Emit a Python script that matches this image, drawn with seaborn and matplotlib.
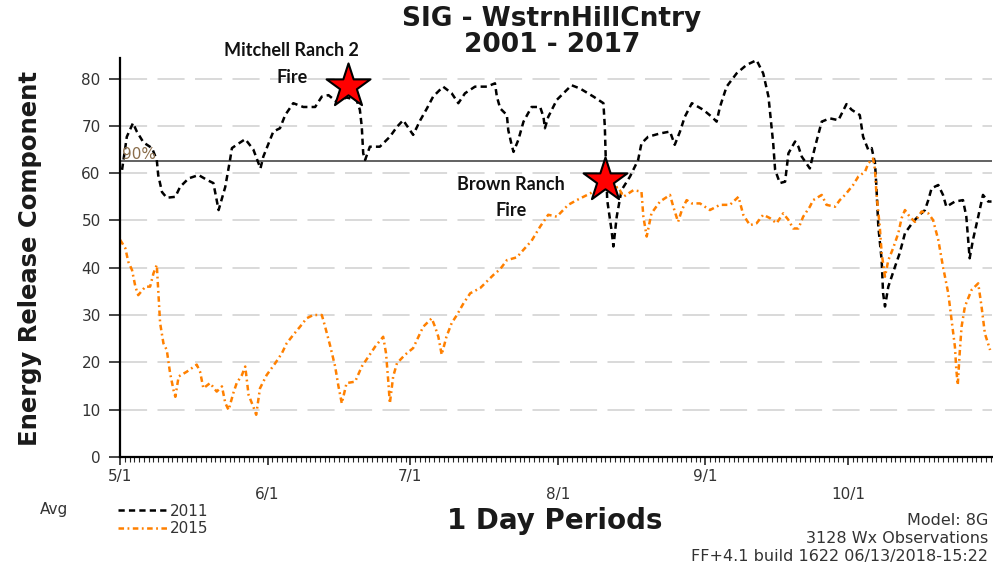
import pandas as pd
import matplotlib.pyplot as plt
import seaborn as sns

# day offset from May 1 and ERC values
days_2011 = [0.4, 1.4, 2.7, 3.5, 4.9, 6.7, 7.7, 8.0, 8.8, 9.8, 11.6, 12.6, 14.4, 16.5, 18.2, 19.6,
             20.3, 20.7, 22.1, 23.1, 23.5, 24.5, 26.3, 28.0, 29.1, 29.5, 30.1, 31.2, 32.2, 33.6,
             34.7, 36.4, 38.5, 41.0, 42.4, 43.8, 45.5, 47.6, 49.7, 50.4, 50.8, 51.1, 51.5, 52.5,
             54.6, 56.7, 58.2, 59.5, 61.6, 63.1, 64.5, 65.8, 67.9, 69.7, 71.1, 72.5, 74.6, 77.1,
             78.8, 79.2, 79.9, 81.3, 81.6, 82.3, 82.7, 83.7, 84.8, 86.5, 88.3, 89.0, 89.3, 90.0,
             91.8, 94.9, 96.7, 99.5, 101.6, 101.9, 102.1, 102.4, 103.3, 103.7, 104.4, 105.4,
             107.2, 108.9, 109.6, 111.0, 113.5, 115.6, 116.6, 117.7, 118.7, 120.2, 122.6, 124.4,
             125.4, 126.1, 127.5, 129.6, 131.7, 133.8, 135.2, 136.3, 137.3, 137.7, 138.7, 139.8,
             140.5, 141.9, 142.6, 143.3, 145.0, 146.1, 147.5, 149.2, 151.0, 152.7, 153.8, 155.5,
             156.2, 157.3, 158.0, 158.7, 159.0, 159.4, 160.1, 160.4, 160.8, 161.5, 162.9, 163.9,
             165.0, 166.7, 168.1, 169.2, 169.9, 170.6, 172.0, 173.0, 173.7, 175.5, 177.2, 177.9,
             178.3, 178.6, 179.3, 180.4, 181.4, 182.5, 183.2]
erc_2011 = [60.7, 67.7, 70.6, 68.8, 66.5, 65.3, 62.8, 59.6, 56.0, 54.8, 55.0, 57.1, 58.9, 59.6, 58.6, 57.9,
            54.3, 52.2, 57.1, 62.8, 65.3, 66.0, 67.2, 65.0, 62.1, 61.0, 63.5, 66.3, 68.8, 69.5,
            72.3, 74.8, 74.0, 74.0, 76.2, 76.5, 75.1, 76.0, 75.5, 73.4, 69.8, 64.2, 62.8, 65.6,
            65.6, 67.7, 69.8, 71.2, 68.1, 71.2, 73.7, 76.2, 78.3, 76.9, 74.8, 76.9, 78.3, 78.3,
            79.0, 76.2, 73.7, 72.3, 69.1, 66.0, 64.5, 67.0, 70.9, 74.0, 74.0, 71.9, 69.5, 71.9,
            75.5, 78.6, 77.9, 76.2, 74.8, 69.8, 62.8, 54.3, 48.0, 44.5, 50.8, 56.4,
            59.3, 62.8, 66.3, 67.7, 68.4, 68.8, 66.0, 68.8, 71.9, 74.8, 73.4, 71.9,
            70.9, 74.0, 78.3, 81.1, 82.9, 83.9, 81.1, 76.2, 66.3, 60.7, 57.9, 58.2,
            64.2, 66.7, 65.6, 63.5, 61.0, 65.6, 70.9, 71.6, 71.2, 74.6, 73.4, 72.3,
            67.7, 64.9, 65.3, 62.1, 57.1, 48.7, 41.6, 34.6, 31.8, 36.0, 40.2, 43.1,
            47.3, 49.7, 51.2, 52.2, 54.3, 56.8, 57.5, 55.4, 52.9, 54.0, 54.3, 50.8,
            45.9, 42.0, 45.9, 50.8, 55.4, 54.0, 54.0]

days_2015 = [0.0, 1.1, 1.7, 2.5, 3.2, 3.8, 5.3, 6.3, 7.0, 7.7, 8.0, 8.4, 9.1, 9.8, 10.5, 11.2, 11.6,
             12.3, 14.0, 16.1, 16.8, 17.5, 18.9, 20.3, 21.4, 22.1, 22.8, 23.8, 24.5, 25.6, 26.3,
             27.0, 28.0, 28.6, 29.4, 30.8, 32.6, 34.0, 35.0, 36.4, 37.8, 39.2, 40.6, 42.4, 43.1,
             44.1, 45.2, 45.9, 46.6, 47.6, 49.4, 50.8, 52.2, 53.6, 55.3, 55.9, 56.4, 56.7, 57.4,
             58.2, 59.9, 61.6, 63.7, 65.5, 66.2, 66.9, 67.6, 68.6, 69.7, 70.8, 72.2, 73.6, 75.7,
             77.1, 78.5, 79.9, 81.3, 83.4, 84.8, 86.5, 88.3, 90.0, 91.8, 94.2, 96.0, 98.8, 100.9,
             103.0, 104.7, 105.8, 107.9, 109.6, 110.0, 110.7, 111.7, 113.5, 115.6, 116.3, 117.3,
             118.1, 119.1, 120.2, 121.9, 124.0, 126.1, 128.2, 130.0, 131.0, 132.4, 133.8, 135.2,
             136.6, 138.0, 139.4, 140.5, 141.5, 142.6, 143.6, 145.0, 145.7, 147.5, 148.5, 150.3,
             151.3, 152.4, 154.1, 155.2, 156.6, 157.3, 158.3, 158.7, 159.0, 159.7, 160.1, 160.8,
             161.5, 162.5, 163.6, 164.3, 165.0, 166.0, 167.1, 168.5, 169.9, 170.9, 172.0, 173.0,
             174.1, 174.8, 175.5, 175.8, 176.1, 176.5, 176.9, 177.6, 179.0, 180.4, 181.1, 181.8,
             182.9]
erc_2015 = [45.9, 44.1, 41.3, 39.5, 36.0, 34.2, 36.0, 36.0, 38.8, 40.6, 35.3, 28.3, 24.0, 22.6, 17.7, 14.2, 12.7,
            17.0, 18.0, 19.5, 18.0, 14.5, 15.6, 13.8, 14.9, 11.4, 9.9, 13.5, 15.6, 17.3, 19.1,
            13.1, 10.6, 8.9, 14.5, 17.3, 19.8, 21.9, 24.0, 25.8, 27.5, 29.3, 30.0, 30.0, 27.5,
            23.7, 19.1, 14.9, 11.3, 15.6, 15.9, 19.1, 21.2, 23.3, 25.4, 21.9, 15.6, 11.3, 17.0,
            19.8, 21.6, 23.0, 27.5, 29.3, 27.5, 25.4, 21.6, 25.4, 28.3, 30.0, 32.5, 34.6, 35.7,
            37.1, 38.5, 39.7, 41.6, 42.2, 43.8, 45.7, 48.7, 51.2, 50.8, 53.3, 54.3, 55.7, 57.0,
            56.5, 57.1, 55.0, 56.4, 56.1, 50.8, 46.6, 51.5, 54.0, 55.4, 52.9, 49.7,
            52.2, 54.3, 53.6, 53.6, 52.2, 53.3, 53.3, 55.0, 51.2, 49.0, 49.4, 51.2,
            50.5, 49.4, 51.5, 50.1, 48.3, 48.3, 50.8, 52.9, 54.3, 55.4, 53.3, 52.9,
            54.3, 55.4, 57.5, 59.3, 60.3, 62.1, 63.1, 60.7, 55.7, 48.7, 43.1, 38.1,
            41.6, 44.1, 47.3, 50.5, 52.2, 50.8, 49.7, 51.9, 51.5, 50.1, 45.9, 40.2,
            34.6, 29.0, 23.3, 18.4, 15.2, 21.9, 27.5, 31.8, 35.3, 36.7, 31.8, 26.1,
            22.6]

month_days = [0, 31, 61, 92, 123, 153]
month_labels = ["5/1", "6/1", "7/1", "8/1", "9/1", "10/1"]
y_ticks = [0, 10, 20, 30, 40, 50, 60, 70, 80]
pct90 = 62.6

fire_labels = ["Mitchell Ranch 2\nFire", "Brown Ranch\nFire"]
fire_days = [47.9, 101.9]
fire_erc = [78.4, 58.6]

df11 = pd.DataFrame({"day": days_2011, "erc": erc_2011})
df15 = pd.DataFrame({"day": days_2015, "erc": erc_2015})

sns.set_style("white")
plt.rcParams["font.family"] = ["DejaVu Sans"]
plt.rcParams["lines.scale_dashes"] = False

fig = plt.figure(figsize=(9.93, 5.64), dpi=100)
ax = fig.add_axes([0.121, 0.19, 0.878, 0.7075])

for v in y_ticks[1:]:
    ax.axhline(v, color="#cfcfcf", lw=1.1, linestyle=(0, (19.5, 7.5)), zorder=0)
ax.axhline(pct90, color="#555555", lw=1.3, zorder=1)
ax.text(0.3, pct90 - 0.2, "90%", color="#8a6d4b", fontsize=11, va="bottom", ha="left")

sns.lineplot(data=df11, x="day", y="erc", ax=ax, color="black", lw=1.8,
             linestyle=(0, (4.5, 3)), estimator=None, sort=False, label="2011", legend=False)
sns.lineplot(data=df15, x="day", y="erc", ax=ax, color="#ff8000", lw=1.8,
             linestyle=(0, (4, 2.5, 1.3, 2.5)), estimator=None, sort=False, label="2015", legend=False)

sns.scatterplot(x=fire_days, y=fire_erc, ax=ax, marker="*", s=1100, color="#ff0000",
                edgecolor="black", linewidth=1.5, zorder=5, clip_on=False, legend=False)
ax.text(36.1, 83.1, fire_labels[0], fontfamily="Lato", fontweight="bold", fontsize=13,
        ha="center", va="center", linespacing=1.65, clip_on=False, color="#111111")
ax.text(82.2, 54.9, fire_labels[1], fontfamily="Lato", fontweight="bold", fontsize=13,
        ha="center", va="center", linespacing=1.65, color="#111111")

ax.set_xlim(0, 183.3)
ax.set_ylim(0, 84.4)
ax.set_yticks(y_ticks)
ax.set_xticks(month_days)
ax.set_xticklabels([lab if i % 2 == 0 else "\n" + lab for i, lab in enumerate(month_labels)])
ax.set_xticks(range(0, 184), minor=True)
ax.tick_params(axis="y", direction="out", length=8, width=1.2, pad=6, labelsize=11,
               labelcolor="#333333", left=True)
ax.tick_params(axis="x", which="major", direction="out", length=6, width=1.2, pad=3,
               labelsize=11, labelcolor="#333333", bottom=True)
ax.tick_params(axis="x", which="minor", direction="out", length=3.5, width=0.8, bottom=True)
for side in ["top", "right"]:
    ax.spines[side].set_visible(False)
for side in ["left", "bottom"]:
    ax.spines[side].set_color("black")
    ax.spines[side].set_linewidth(1.6)
ax.set_xlabel("")
ax.set_ylabel("")

fig.text(0.556, 0.966, "SIG - WstrnHillCntry", ha="center", va="center",
         fontsize=19, fontweight="bold", color="#1a1a1a")
fig.text(0.556, 0.920, "2001 - 2017", ha="center", va="center",
         fontsize=19, fontweight="bold", color="#1a1a1a")
fig.text(0.030, 0.542, "Energy Release Component", rotation=90, ha="center", va="center",
         fontsize=17.5, fontweight="bold", color="#1a1a1a")
fig.text(0.559, 0.076, "1 Day Periods", ha="center", va="center",
         fontsize=20, fontweight="bold", color="#1a1a1a")

fig.text(0.040, 0.096, "Avg", ha="left", va="center", fontsize=11, color="#333333")
handles, labels = ax.get_legend_handles_labels()
fig.legend(handles[:2], labels[:2], loc="upper left", bbox_to_anchor=(0.119, 0.107),
           frameon=False, fontsize=11, handlelength=3.3, handletextpad=0.1,
           labelspacing=0.15, borderpad=0, borderaxespad=0, labelcolor="#333333")

for y, s in zip([0.078, 0.046, 0.014],
                ["Model: 8G", "3128 Wx Observations", "FF+4.1 build 1622 06/13/2018-15:22"]):
    fig.text(0.995, y, s, ha="right", va="center", fontsize=11.5, color="#333333")

fig.savefig("out.png", dpi=100)
